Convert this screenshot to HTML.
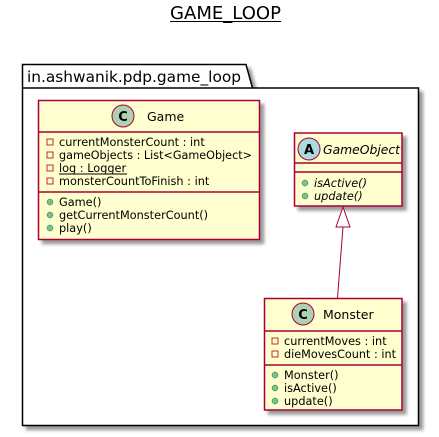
<!DOCTYPE html>
<html><head><style>
html,body{margin:0;padding:0;background:#fff;}
svg{display:block;}
text{font-family:"DejaVu Sans","Liberation Sans",sans-serif;fill:#000;}
</style></head><body>
<svg width="439" height="437" viewBox="0 0 439 437" xmlns="http://www.w3.org/2000/svg">
<defs>
<filter id="sh" x="-10%" y="-10%" width="130%" height="130%"><feGaussianBlur in="SourceAlpha" stdDeviation="1.5"/><feOffset dx="4" dy="4"/><feComponentTransfer><feFuncA type="linear" slope="0.4"/></feComponentTransfer><feMerge><feMergeNode/><feMergeNode in="SourceGraphic"/></feMerge></filter>
</defs>
<text x="225.5" y="19" font-size="18" text-anchor="middle" textLength="111" lengthAdjust="spacingAndGlyphs">GAME_LOOP</text>
<line x1="170" y1="21.5" x2="281" y2="21.5" stroke="#000" stroke-width="1"/>

<g filter="url(#sh)">
<path d="M22.5,64.5 L246,64.5 L252.5,88 L418.5,88 L418.5,425.5 L22.5,425.5 Z" fill="#fff" stroke="#000" stroke-width="1.5"/>
</g>
<line x1="22.5" y1="88" x2="252.5" y2="88" stroke="#000" stroke-width="1.5"/>
<text x="27" y="82" font-size="15" textLength="214" lengthAdjust="spacingAndGlyphs">in.ashwanik.pdp.game_loop</text>

<!-- Game -->
<g filter="url(#sh)"><rect x="38.5" y="100.5" width="221" height="139" fill="#FEFECE" stroke="#A80036" stroke-width="1.5"/></g>
<line x1="38.5" y1="132" x2="259.5" y2="132" stroke="#A80036" stroke-width="1.5"/>
<line x1="38.5" y1="192" x2="259.5" y2="192" stroke="#A80036" stroke-width="1.5"/>
<circle cx="123" cy="116" r="11" fill="#ADD1B2" stroke="#A80036" stroke-width="1"/>
<text x="123" y="121" font-size="13" font-weight="bold" text-anchor="middle">C</text>
<text x="147" y="121" font-size="12.5">Game</text>
<g font-size="11.3">
<rect x="47" y="139" width="6" height="6" fill="none" stroke="#C82930"/>
<text x="59" y="146">currentMonsterCount : int</text>
<rect x="47" y="152" width="6" height="6" fill="none" stroke="#C82930"/>
<text x="59" y="159" textLength="193" lengthAdjust="spacingAndGlyphs">gameObjects : List&lt;GameObject&gt;</text>
<rect x="47" y="165" width="6" height="6" fill="none" stroke="#C82930"/>
<text x="59" y="172">log : Logger</text>
<line x1="59" y1="174" x2="127" y2="174" stroke="#000"/>
<rect x="47" y="178" width="6" height="6" fill="none" stroke="#C82930"/>
<text x="59" y="185">monsterCountToFinish : int</text>
<circle cx="50" cy="202" r="3" fill="#84BE84" stroke="#038048" stroke-width="0.5"/>
<text x="59" y="206">Game()</text>
<circle cx="50" cy="215" r="3" fill="#84BE84" stroke="#038048" stroke-width="0.5"/>
<text x="59" y="219">getCurrentMonsterCount()</text>
<circle cx="50" cy="228" r="3" fill="#84BE84" stroke="#038048" stroke-width="0.5"/>
<text x="59" y="232">play()</text>
</g>

<!-- GameObject -->
<g filter="url(#sh)"><rect x="294.5" y="133" width="107.5" height="73" fill="#FEFECE" stroke="#A80036" stroke-width="1.5"/></g>
<line x1="294.5" y1="163" x2="402" y2="163" stroke="#A80036" stroke-width="1.5"/>
<line x1="294.5" y1="172" x2="402" y2="172" stroke="#A80036" stroke-width="1.5"/>
<circle cx="309" cy="149" r="11" fill="#A9DCDF" stroke="#A80036" stroke-width="1"/>
<text x="309" y="154" font-size="13" font-weight="bold" text-anchor="middle">A</text>
<text x="323" y="154" font-size="12" font-style="italic" textLength="77" lengthAdjust="spacingAndGlyphs">GameObject</text>
<g font-size="11.3" font-style="italic">
<circle cx="305" cy="183" r="3" fill="#84BE84" stroke="#038048" stroke-width="0.5"/>
<text x="314" y="187">isActive()</text>
<circle cx="305" cy="196" r="3" fill="#84BE84" stroke="#038048" stroke-width="0.5"/>
<text x="314" y="200">update()</text>
</g>

<!-- arrow -->
<line x1="343" y1="227" x2="337.5" y2="298" stroke="#A80036" stroke-width="1"/>
<polygon points="343,207 336,227 350,227" fill="#fff" stroke="#A80036" stroke-width="1"/>

<!-- Monster -->
<g filter="url(#sh)"><rect x="264.5" y="298.5" width="137.5" height="111.5" fill="#FEFECE" stroke="#A80036" stroke-width="1.5"/></g>
<line x1="264.5" y1="331" x2="402" y2="331" stroke="#A80036" stroke-width="1.5"/>
<line x1="264.5" y1="365" x2="402" y2="365" stroke="#A80036" stroke-width="1.5"/>
<circle cx="303" cy="314" r="11" fill="#ADD1B2" stroke="#A80036" stroke-width="1"/>
<text x="303" y="319" font-size="13" font-weight="bold" text-anchor="middle">C</text>
<text x="323" y="319" font-size="12.5">Monster</text>
<g font-size="11.3">
<rect x="272" y="338" width="6" height="6" fill="none" stroke="#C82930"/>
<text x="284" y="345">currentMoves : int</text>
<rect x="272" y="351" width="6" height="6" fill="none" stroke="#C82930"/>
<text x="284" y="358" textLength="112" lengthAdjust="spacingAndGlyphs">dieMovesCount : int</text>
<circle cx="275" cy="375" r="3" fill="#84BE84" stroke="#038048" stroke-width="0.5"/>
<text x="284" y="379">Monster()</text>
<circle cx="275" cy="388" r="3" fill="#84BE84" stroke="#038048" stroke-width="0.5"/>
<text x="284" y="392">isActive()</text>
<circle cx="275" cy="401" r="3" fill="#84BE84" stroke="#038048" stroke-width="0.5"/>
<text x="284" y="405">update()</text>
</g>
</svg>
</body></html>
